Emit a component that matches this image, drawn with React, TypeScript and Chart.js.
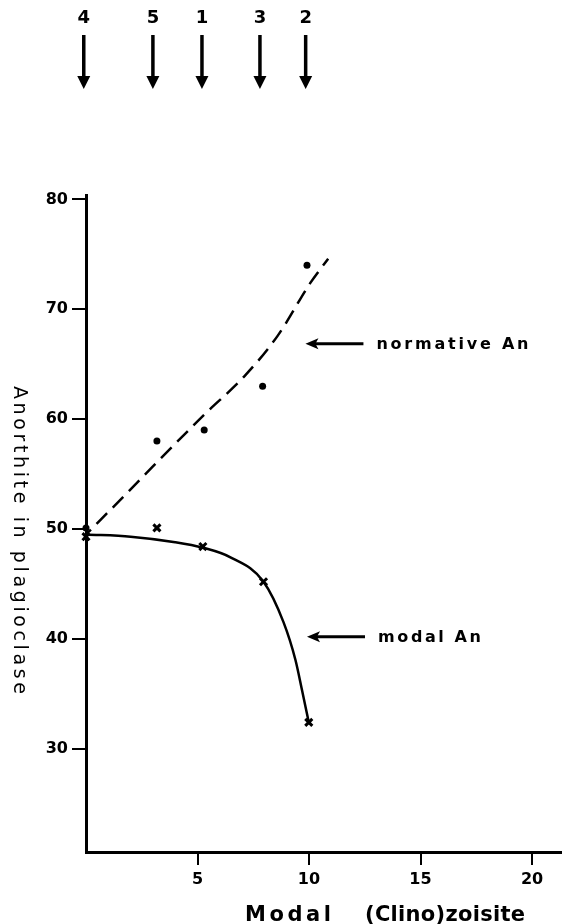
import React, { useEffect, useRef } from "react";
import { Chart, registerables } from "chart.js";

Chart.register(...registerables);

// Sample numbers shown by the arrows above the plot, and their x positions
const sampleLabels = ["4", "5", "1", "3", "2"];
const sampleArrowX = [-0.1, 3.0, 5.2, 7.8, 9.85];

// Measured points (x = modal (clino)zoisite, y = An in plagioclase)
const normativeX = [0, 3.18, 5.3, 7.92, 9.91];
const normativeAn = [50.1, 58.0, 59.0, 63.0, 74.0];
const modalX = [0, 3.18, 5.24, 7.96, 9.99];
const modalAn = [49.3, 50.1, 48.4, 45.2, 32.4];

// Hand-drawn trend curves
const normativeCurveX = [0, 1.9, 3.0, 5.3, 7.1, 8.6, 10.06, 10.86];
const normativeCurveY = [49.5, 53.4, 55.7, 60.4, 63.9, 67.6, 72.4, 74.6];
const modalCurveX = [0, 2.0, 4.0, 5.24, 6.5, 7.96, 8.86, 9.39, 9.69, 9.99];
const modalCurveY = [49.5, 49.3, 48.8, 48.3, 47.4, 45.2, 41.5, 38.1, 35.3, 32.4];

// Axis ticks
const xTicks = [5, 10, 15, 20];
const yTicks = [30, 40, 50, 60, 70, 80];

// Curve labels (arrow tip in data coordinates)
const curveLabels = ["normative An", "modal An"];
const curveLabelTipX = [9.84, 9.91];
const curveLabelTipY = [66.85, 40.2];

const FONT = "DejaVu Sans";

function pts(xs: number[], ys: number[]) {
  return xs.map((x, i) => ({ x, y: ys[i] }));
}

function drawFitted(ctx: CanvasRenderingContext2D, text: string, x0: number, y: number, targetW: number) {
  const chars = Array.from(text);
  const widths = chars.map((c) => ctx.measureText(c).width);
  const total = widths.reduce((a, b) => a + b, 0);
  const gap = chars.length > 1 ? (targetW - total) / (chars.length - 1) : 0;
  let x = x0;
  ctx.textAlign = "left";
  chars.forEach((c, i) => {
    ctx.fillText(c, x, y);
    x += widths[i] + gap;
  });
}

function leftArrow(ctx: CanvasRenderingContext2D, tx: number, ty: number, len: number) {
  ctx.beginPath();
  ctx.moveTo(tx + 8, ty);
  ctx.lineTo(tx + len, ty);
  ctx.lineWidth = 3;
  ctx.stroke();
  ctx.beginPath();
  ctx.moveTo(tx, ty);
  ctx.lineTo(tx + 13, ty - 5.5);
  ctx.lineTo(tx + 10, ty);
  ctx.lineTo(tx + 13, ty + 5.5);
  ctx.closePath();
  ctx.fill();
}

const decorPlugin = {
  id: "decor",
  afterDraw(chart: any) {
    const ctx: CanvasRenderingContext2D = chart.ctx;
    const xs = chart.scales.x;
    const ys = chart.scales.y;
    ctx.save();
    ctx.fillStyle = "#000";
    ctx.strokeStyle = "#000";

    // top sample arrows
    ctx.font = `bold 18px "${FONT}"`;
    ctx.textBaseline = "middle";
    sampleLabels.forEach((lab, i) => {
      const px = xs.getPixelForValue(sampleArrowX[i]);
      ctx.textAlign = "center";
      ctx.fillText(lab, px, 18);
      ctx.beginPath();
      ctx.moveTo(px, 35);
      ctx.lineTo(px, 80);
      ctx.lineWidth = 3.5;
      ctx.stroke();
      ctx.beginPath();
      ctx.moveTo(px - 6.5, 76);
      ctx.lineTo(px + 6.5, 76);
      ctx.lineTo(px, 89);
      ctx.closePath();
      ctx.fill();
    });

    // curve labels with arrows
    ctx.font = `bold 16px "${FONT}"`;
    ctx.textBaseline = "alphabetic";
    curveLabels.forEach((lab, i) => {
      const tx = xs.getPixelForValue(curveLabelTipX[i]);
      const ty = ys.getPixelForValue(curveLabelTipY[i]);
      leftArrow(ctx, tx, ty, 58);
      const w = i === 0 ? 152 : 103;
      drawFitted(ctx, lab, tx + 71, ty + 5, w);
    });

    // x axis title
    ctx.font = `bold 21px "${FONT}"`;
    ctx.textBaseline = "alphabetic";
    drawFitted(ctx, "Modal", 245, 921, 86);
    drawFitted(ctx, "(Clino)zoisite", 365, 921, 160);

    // y axis title, reading top to bottom
    ctx.save();
    ctx.translate(19, 540);
    ctx.rotate(Math.PI / 2);
    ctx.font = `19px "${FONT}"`;
    ctx.textBaseline = "middle";
    drawFitted(ctx, "Anorthite in plagioclase", -154, 0, 308);
    ctx.restore();

    ctx.restore();
  },
};

export default function App() {
  const ref = useRef<HTMLCanvasElement | null>(null);

  useEffect(() => {
    if (!ref.current) return;
    const chart = new Chart(ref.current, {
      type: "scatter",
      data: {
        datasets: [
          {
            label: "normative curve",
            data: pts(normativeCurveX, normativeCurveY),
            showLine: true,
            borderColor: "#000",
            borderWidth: 2.5,
            borderDash: [15, 8],
            borderDashOffset: 8,
            pointRadius: 0,
            cubicInterpolationMode: "monotone",
            clip: false,
          } as any,
          {
            label: "modal curve",
            data: pts(modalCurveX, modalCurveY),
            showLine: true,
            borderColor: "#000",
            borderWidth: 2.5,
            pointRadius: 0,
            cubicInterpolationMode: "monotone",
            clip: false,
          } as any,
          {
            label: "normative An",
            data: pts(normativeX, normativeAn),
            pointStyle: "circle",
            pointRadius: 3.5,
            backgroundColor: "#000",
            borderColor: "#000",
            borderWidth: 0,
            clip: false,
          } as any,
          {
            label: "modal An",
            data: pts(modalX, modalAn),
            pointStyle: "crossRot",
            pointRadius: 5,
            borderColor: "#000",
            borderWidth: 3,
            clip: false,
          } as any,
        ],
      },
      options: {
        animation: false,
        responsive: false,
        devicePixelRatio: 1,
        layout: { autoPadding: false, padding: { top: 195, right: 1, left: 0, bottom: 0 } },
        plugins: { legend: { display: false }, tooltip: { enabled: false } },
        scales: {
          x: {
            type: "linear",
            min: 0,
            max: 21.3,
            border: { display: true, width: 3, color: "#000" },
            grid: { display: true, drawOnChartArea: false, drawTicks: true, tickLength: 13, lineWidth: 2, color: "#000" },
            ticks: { color: "#000", padding: 5, font: { family: FONT, size: 16, weight: "bold" } },
            afterBuildTicks: (s: any) => {
              s.ticks = xTicks.map((v) => ({ value: v }));
            },
            afterFit: (s: any) => {
              s.height = 72;
              s.paddingLeft = 0;
              s.paddingRight = 0;
            },
          },
          y: {
            type: "linear",
            min: 20.6,
            max: 80.4,
            border: { display: true, width: 3, color: "#000" },
            grid: { display: true, drawOnChartArea: false, drawTicks: true, tickLength: 14, lineWidth: 2, color: "#000" },
            ticks: { color: "#000", padding: 4, font: { family: FONT, size: 16, weight: "bold" } },
            afterBuildTicks: (s: any) => {
              s.ticks = yTicks.map((v) => ({ value: v }));
            },
            afterFit: (s: any) => {
              s.width = 86;
              s.paddingTop = 0;
              s.paddingBottom = 0;
            },
          },
        },
      } as any,
      plugins: [decorPlugin],
    });
    return () => chart.destroy();
  }, []);

  return (
    <div style={{ position: "fixed", left: 0, top: 0, width: 562, height: 924, background: "#fff" }}>
      <canvas ref={ref} width={562} height={924} style={{ display: "block" }} />
    </div>
  );
}
